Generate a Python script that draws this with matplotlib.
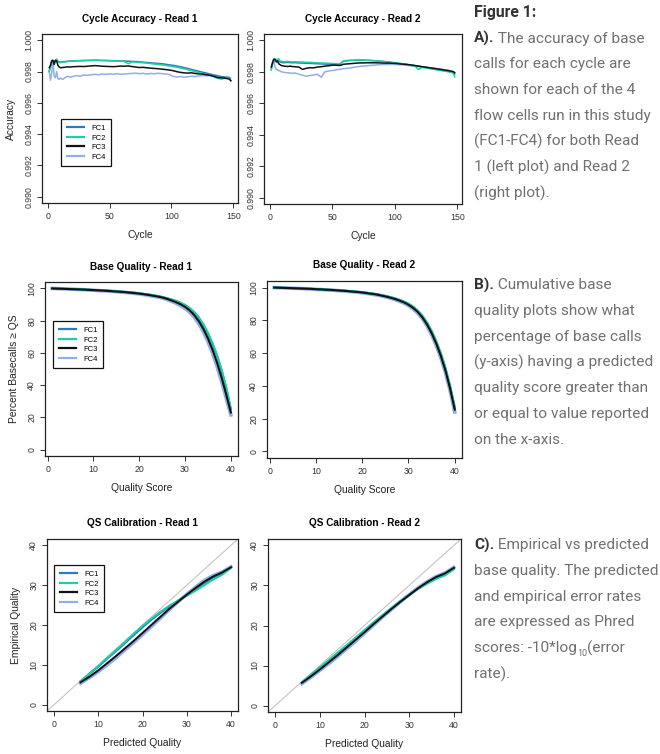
import matplotlib
matplotlib.use("Agg")
import matplotlib.pyplot as plt
import numpy as np

plt.rcParams['font.family'] = ['Liberation Sans', 'DejaVu Sans']

# ---------------- data ----------------
series = ['FC1', 'FC2', 'FC3', 'FC4']
colors = {'FC1': '#2b7bc0', 'FC2': '#1ccfa2', 'FC3': '#111111', 'FC4': '#92aee8'}

cycles = [1, 2, 3, 4, 5, 6, 7, 8, 9, 10,
          12, 14, 16, 18, 20,
          23, 26, 29, 32, 35, 38, 41, 44, 47, 50,
          53, 56, 59, 62, 65, 68, 71, 74, 77, 80,
          83, 86, 89, 92, 95, 98, 101, 104, 107, 110,
          113, 116, 119, 122, 125, 128, 131, 134, 137, 140,
          143, 145, 147, 148]

acc_r1 = {
    'FC1': [0.99805, 0.99830, 0.99862, 0.99868, 0.99866, 0.99870, 0.99872, 0.99866, 0.99862, 0.99860,
            0.99862, 0.99864, 0.99866, 0.99867, 0.99868,
            0.99869, 0.99870, 0.99871, 0.99871, 0.99872, 0.99872, 0.99872, 0.99871, 0.99871, 0.99870,
            0.99869, 0.99868, 0.99867, 0.99867, 0.99866, 0.99865, 0.99864, 0.99862, 0.99860, 0.99858,
            0.99856, 0.99854, 0.99852, 0.99850, 0.99847, 0.99843, 0.99840, 0.99836, 0.99831, 0.99826,
            0.99820, 0.99814, 0.99808, 0.99802, 0.99796, 0.99791, 0.99785, 0.99779, 0.99774, 0.99768,
            0.99764, 0.99762, 0.99758, 0.99740],
    'FC2': [0.99800, 0.99835, 0.99860, 0.99866, 0.99862, 0.99868, 0.99880, 0.99862, 0.99858, 0.99857,
            0.99859, 0.99862, 0.99864, 0.99866, 0.99867,
            0.99868, 0.99869, 0.99870, 0.99871, 0.99871, 0.99872, 0.99871, 0.99871, 0.99870, 0.99869,
            0.99868, 0.99867, 0.99866, 0.99864, 0.99850, 0.99862, 0.99860, 0.99858, 0.99856, 0.99854,
            0.99851, 0.99848, 0.99846, 0.99843, 0.99840, 0.99836, 0.99832, 0.99828, 0.99823, 0.99818,
            0.99812, 0.99806, 0.99800, 0.99794, 0.99788, 0.99782, 0.99776, 0.99768, 0.99758, 0.99752,
            0.99756, 0.99758, 0.99755, 0.99742],
    'FC3': [0.99825, 0.99840, 0.99870, 0.99872, 0.99845, 0.99872, 0.99868, 0.99840, 0.99830, 0.99824,
            0.99826, 0.99828, 0.99830, 0.99829, 0.99831,
            0.99832, 0.99833, 0.99832, 0.99834, 0.99836, 0.99838, 0.99836, 0.99834, 0.99833, 0.99832,
            0.99831, 0.99833, 0.99835, 0.99834, 0.99836, 0.99832, 0.99829, 0.99826, 0.99827, 0.99824,
            0.99822, 0.99820, 0.99818, 0.99816, 0.99813, 0.99810, 0.99806, 0.99800, 0.99795, 0.99792,
            0.99790, 0.99792, 0.99788, 0.99785, 0.99784, 0.99780, 0.99776, 0.99770, 0.99762, 0.99760,
            0.99758, 0.99755, 0.99752, 0.99742],
    'FC4': [0.99800, 0.99745, 0.99790, 0.99870, 0.99770, 0.99760, 0.99800, 0.99755, 0.99750, 0.99758,
            0.99750, 0.99762, 0.99770, 0.99764, 0.99768,
            0.99774, 0.99770, 0.99778, 0.99776, 0.99780, 0.99782, 0.99780, 0.99784, 0.99782, 0.99785,
            0.99783, 0.99786, 0.99782, 0.99784, 0.99786, 0.99788, 0.99790, 0.99786, 0.99789, 0.99784,
            0.99788, 0.99786, 0.99789, 0.99787, 0.99785, 0.99782, 0.99770, 0.99765, 0.99768, 0.99764,
            0.99766, 0.99770, 0.99768, 0.99772, 0.99774, 0.99773, 0.99775, 0.99772, 0.99770, 0.99768,
            0.99766, 0.99768, 0.99764, 0.99760],
}

acc_r2 = {
    'FC1': [0.99820, 0.99850, 0.99872, 0.99878, 0.99874, 0.99870, 0.99868, 0.99862, 0.99860, 0.99858,
            0.99858, 0.99860, 0.99858, 0.99857, 0.99858,
            0.99856, 0.99855, 0.99854, 0.99853, 0.99852, 0.99851, 0.99850, 0.99849, 0.99848, 0.99847,
            0.99846, 0.99848, 0.99868, 0.99870, 0.99872, 0.99873, 0.99874, 0.99874, 0.99873, 0.99872,
            0.99871, 0.99869, 0.99867, 0.99865, 0.99862, 0.99859, 0.99856, 0.99853, 0.99850, 0.99847,
            0.99843, 0.99839, 0.99835, 0.99831, 0.99827, 0.99823, 0.99819, 0.99815, 0.99811, 0.99806,
            0.99802, 0.99800, 0.99798, 0.99785],
    'FC2': [0.99810, 0.99855, 0.99880, 0.99882, 0.99876, 0.99880, 0.99882, 0.99868, 0.99866, 0.99865,
            0.99864, 0.99866, 0.99864, 0.99863, 0.99864,
            0.99862, 0.99862, 0.99860, 0.99860, 0.99858, 0.99857, 0.99856, 0.99855, 0.99854, 0.99853,
            0.99851, 0.99850, 0.99870, 0.99872, 0.99873, 0.99874, 0.99875, 0.99874, 0.99873, 0.99872,
            0.99870, 0.99868, 0.99866, 0.99864, 0.99861, 0.99858, 0.99855, 0.99852, 0.99849, 0.99845,
            0.99841, 0.99837, 0.99815, 0.99828, 0.99824, 0.99820, 0.99816, 0.99812, 0.99808, 0.99804,
            0.99800, 0.99797, 0.99790, 0.99768],
    'FC3': [0.99830, 0.99860, 0.99880, 0.99878, 0.99862, 0.99868, 0.99850, 0.99845, 0.99840, 0.99838,
            0.99835, 0.99834, 0.99836, 0.99833, 0.99832,
            0.99830, 0.99815, 0.99822, 0.99826, 0.99825, 0.99830, 0.99832, 0.99836, 0.99838, 0.99842,
            0.99842, 0.99840, 0.99848, 0.99850, 0.99852, 0.99854, 0.99856, 0.99856, 0.99857, 0.99857,
            0.99857, 0.99857, 0.99856, 0.99855, 0.99855, 0.99854, 0.99853, 0.99850, 0.99848, 0.99846,
            0.99843, 0.99840, 0.99836, 0.99832, 0.99829, 0.99825, 0.99822, 0.99818, 0.99815, 0.99811,
            0.99807, 0.99804, 0.99800, 0.99795],
    'FC4': [0.99835, 0.99850, 0.99875, 0.99830, 0.99815, 0.99812, 0.99808, 0.99805, 0.99800, 0.99798,
            0.99795, 0.99794, 0.99792, 0.99790, 0.99792,
            0.99785, 0.99778, 0.99772, 0.99776, 0.99780, 0.99784, 0.99765, 0.99800, 0.99805, 0.99808,
            0.99812, 0.99816, 0.99820, 0.99822, 0.99825, 0.99830, 0.99833, 0.99836, 0.99838, 0.99840,
            0.99842, 0.99844, 0.99846, 0.99846, 0.99847, 0.99847, 0.99846, 0.99845, 0.99843, 0.99841,
            0.99838, 0.99836, 0.99834, 0.99832, 0.99829, 0.99826, 0.99823, 0.99820, 0.99816, 0.99813,
            0.99810, 0.99806, 0.99802, 0.99790],
}

qs = list(range(1, 41))
bq_r1 = {
    'FC1': [100.0, 99.9, 99.8, 99.7, 99.6, 99.5, 99.4, 99.3, 99.2, 99.0, 98.9, 98.7, 98.6, 98.4, 98.2,
            98.0, 97.8, 97.5, 97.3, 97.0, 96.6, 96.2, 95.8, 95.3, 94.7, 94.0, 93.1, 92.2, 91.0, 89.6,
            87.6, 85.1, 81.8, 77.4, 72.0, 65.5, 58.0, 49.0, 38.0, 25.0],
    'FC2': [100.0, 99.9, 99.8, 99.7, 99.6, 99.5, 99.4, 99.3, 99.2, 99.0, 98.9, 98.7, 98.6, 98.4, 98.2,
            98.0, 97.8, 97.5, 97.3, 97.0, 96.6, 96.2, 95.8, 95.3, 94.7, 94.0, 93.2, 92.3, 91.2, 89.8,
            87.9, 85.4, 82.1, 77.8, 72.5, 66.0, 58.5, 49.5, 38.5, 25.5],
    'FC3': [100.0, 99.9, 99.8, 99.7, 99.6, 99.5, 99.4, 99.3, 99.1, 99.0, 98.8, 98.7, 98.5, 98.3, 98.1,
            97.9, 97.7, 97.4, 97.1, 96.8, 96.4, 96.0, 95.5, 95.0, 94.4, 93.6, 92.6, 91.5, 90.2, 88.6,
            86.4, 83.5, 79.7, 74.9, 69.0, 62.0, 53.8, 44.5, 34.0, 23.0],
    'FC4': [100.0, 99.9, 99.8, 99.7, 99.6, 99.5, 99.3, 99.2, 99.0, 98.9, 98.7, 98.5, 98.4, 98.2, 98.0,
            97.7, 97.5, 97.2, 96.9, 96.6, 96.2, 95.7, 95.2, 94.7, 94.1, 93.2, 92.1, 90.9, 89.4, 87.6,
            85.3, 82.2, 78.2, 73.2, 67.0, 59.8, 51.5, 42.0, 31.8, 21.5],
}
bq_r2 = {
    'FC1': [100.0, 99.9, 99.8, 99.7, 99.6, 99.5, 99.4, 99.3, 99.2, 99.1, 98.9, 98.8, 98.6, 98.5, 98.3,
            98.1, 97.9, 97.7, 97.4, 97.1, 96.8, 96.4, 96.0, 95.5, 94.9, 94.2, 93.4, 92.5, 91.4, 90.0,
            88.2, 85.8, 82.6, 78.4, 73.2, 66.9, 59.5, 50.5, 39.5, 26.5],
    'FC2': [100.0, 99.9, 99.8, 99.7, 99.6, 99.5, 99.4, 99.3, 99.2, 99.1, 98.9, 98.8, 98.6, 98.5, 98.3,
            98.1, 97.9, 97.7, 97.4, 97.1, 96.8, 96.4, 96.0, 95.5, 94.9, 94.3, 93.5, 92.6, 91.5, 90.2,
            88.4, 86.0, 82.9, 78.8, 73.6, 67.4, 60.0, 51.0, 40.0, 27.0],
    'FC3': [100.0, 99.9, 99.8, 99.7, 99.6, 99.5, 99.4, 99.3, 99.2, 99.0, 98.9, 98.7, 98.6, 98.4, 98.2,
            98.0, 97.8, 97.5, 97.3, 97.0, 96.6, 96.2, 95.8, 95.2, 94.6, 93.9, 93.1, 92.1, 91.0, 89.5,
            87.6, 85.1, 81.8, 77.5, 72.2, 65.8, 58.2, 49.2, 38.3, 25.5],
    'FC4': [100.0, 99.9, 99.8, 99.7, 99.6, 99.5, 99.4, 99.2, 99.1, 98.9, 98.8, 98.6, 98.4, 98.3, 98.1,
            97.9, 97.6, 97.4, 97.1, 96.8, 96.4, 96.0, 95.5, 95.0, 94.3, 93.6, 92.7, 91.7, 90.5, 89.0,
            87.0, 84.4, 81.0, 76.6, 71.2, 64.7, 57.0, 48.0, 37.0, 24.0],
}

pred_q = [6, 8, 10, 12, 14, 16, 18, 20, 22, 24, 26, 28, 30, 32, 34, 36, 38, 40]
cal_r1 = {
    'FC1': [5.9, 7.7, 9.5, 11.5, 13.4, 15.4, 17.4, 19.4, 21.3, 23.0, 24.6, 26.1, 27.5, 29.0, 30.5, 31.9, 32.9, 34.4],
    'FC2': [5.9, 7.8, 9.7, 11.7, 13.7, 15.7, 17.8, 19.8, 21.6, 23.3, 24.8, 26.1, 27.3, 28.6, 30.0, 31.4, 32.6, 34.3],
    'FC3': [5.6, 7.0, 8.6, 10.4, 12.2, 14.1, 16.0, 18.0, 20.0, 22.0, 24.0, 25.8, 27.6, 29.3, 30.9, 32.2, 33.2, 34.5],
    'FC4': [5.4, 6.8, 8.3, 10.0, 11.8, 13.7, 15.6, 17.6, 19.6, 21.7, 23.8, 25.8, 27.7, 29.5, 31.2, 32.4, 33.3, 34.6],
}
cal_r2 = {
    'FC1': [5.8, 7.5, 9.3, 11.1, 12.9, 14.8, 16.7, 18.6, 20.5, 22.4, 24.2, 25.9, 27.6, 29.2, 30.7, 32.0, 32.9, 34.3],
    'FC2': [5.9, 7.7, 9.6, 11.4, 13.3, 15.1, 17.0, 18.9, 20.8, 22.6, 24.4, 26.1, 27.7, 29.1, 30.4, 31.6, 32.5, 34.0],
    'FC3': [5.7, 7.3, 9.0, 10.8, 12.6, 14.5, 16.4, 18.3, 20.3, 22.2, 24.1, 25.9, 27.6, 29.3, 30.8, 32.1, 33.0, 34.4],
    'FC4': [5.5, 7.1, 8.8, 10.5, 12.3, 14.2, 16.1, 18.1, 20.1, 22.1, 24.0, 25.9, 27.7, 29.4, 30.9, 32.2, 33.1, 34.5],
}

# ---------------- figure ----------------
W, H = 660, 754
fig = plt.figure(figsize=(W / 100, H / 100), dpi=100)


def px_axes(x0, y0, x1, y1):
    # pixel box (top-left origin) -> axes
    return fig.add_axes([x0 / W, 1 - y1 / H, (x1 - x0) / W, (y1 - y0) / H])


def r_style(ax, title, xlabel, ylabel, xlim, ylim, xticks, yticks, yfmt):
    ax.set_xlim(xlim[0] - 0.04 * (xlim[1] - xlim[0]), xlim[1] + 0.04 * (xlim[1] - xlim[0]))
    ax.set_ylim(ylim[0] - 0.04 * (ylim[1] - ylim[0]), ylim[1] + 0.04 * (ylim[1] - ylim[0]))
    ax.set_xticks(xticks)
    ax.set_yticks(yticks)
    ax.set_yticklabels([yfmt.format(v) for v in yticks])
    for s in ax.spines.values():
        s.set_color('#222222')
        s.set_linewidth(0.9)
    ax.tick_params(direction='out', length=3.3, width=0.7, color='#333333',
                   labelsize=6.3, labelcolor='#333333', pad=3.5)
    ax.tick_params(axis='y', labelrotation=90, pad=3)
    for lbl in ax.get_yticklabels():
        lbl.set_va('center')
    ax.set_title(title, fontsize=7.2, fontweight='bold', pad=9)
    if xlabel:
        ax.set_xlabel(xlabel, fontsize=7.4, color='#222222', labelpad=6)
    if ylabel:
        ax.set_ylabel(ylabel, fontsize=7.4, color='#222222', labelpad=6)


def add_legend(ax, anchor):
    h, l = ax.get_legend_handles_labels()
    hh = [h[l.index(s)] for s in series]
    leg = ax.legend(hh, series, loc='upper left', bbox_to_anchor=anchor, borderaxespad=0,
                    fontsize=5.5, frameon=True, fancybox=False, framealpha=1,
                    edgecolor='#111111', handlelength=2.3, handletextpad=0.9,
                    labelspacing=0.28, borderpad=0.75)
    leg.get_frame().set_linewidth(0.9)
    for line in leg.get_lines():
        line.set_linewidth(1.6)


order = ['FC4', 'FC1', 'FC2', 'FC3']

# row 1: cycle accuracy
ax1 = px_axes(42, 34, 238, 203)
ax2 = px_axes(264, 34, 462, 204)
for ax, data, t in [(ax1, acc_r1, 'Cycle Accuracy - Read 1'), (ax2, acc_r2, 'Cycle Accuracy - Read 2')]:
    for s in series:
        ax.plot(cycles, data[s], color=colors[s], lw=1.1, label=s,
                zorder=2 if s != 'FC4' else 1.5)
    r_style(ax, t, 'Cycle', 'Accuracy' if ax is ax1 else None,
            (1, 148), (0.990, 1.000), [0, 50, 100, 150],
            [0.990, 0.992, 0.994, 0.996, 0.998, 1.000], '{:.3f}')
add_legend(ax1, (0.097, 0.497))

# row 2: base quality
ax3 = px_axes(45, 282, 238, 456)
ax4 = px_axes(267, 281, 462, 458)
for ax, data, t in [(ax3, bq_r1, 'Base Quality - Read 1'), (ax4, bq_r2, 'Base Quality - Read 2')]:
    for s in order:
        ax.plot(qs, data[s], color=colors[s], lw=2.6 if s == 'FC4' else 1.5, label=s)
    r_style(ax, t, 'Quality Score', 'Percent Basecalls \u2265 QS' if ax is ax3 else None,
            (1, 40), (0, 100), [0, 10, 20, 30, 40], [0, 20, 40, 60, 80, 100], '{:d}')
add_legend(ax3, (0.041, 0.776))

# row 3: QS calibration
ax5 = px_axes(47, 539, 238, 711)
ax6 = px_axes(268, 539, 461, 712)
for ax, data, t in [(ax5, cal_r1, 'QS Calibration - Read 1'), (ax6, cal_r2, 'QS Calibration - Read 2')]:
    ax.axline((0, 0), slope=1, color='#c4c4c4', lw=0.8, zorder=1)
    for s in order:
        ax.plot(pred_q, data[s], color=colors[s], lw=2.6 if s == 'FC4' else 1.4, label=s, zorder=2)
    r_style(ax, t, 'Predicted Quality', 'Empirical Quality' if ax is ax5 else None,
            (0, 40), (0, 40), [0, 10, 20, 30, 40], [0, 10, 20, 30, 40], '{:d}')
add_legend(ax5, (0.037, 0.849))

# ---------------- caption text ----------------
renderer = fig.canvas.get_renderer()
TXT = ['Roboto', 'DejaVu Sans']
FS = 11.1
body = dict(fontsize=FS, family=TXT, fontweight='normal', color='#707070', va='center')
bold = dict(fontsize=FS, family=TXT, fontweight='bold', color='#333333', va='center')
X0 = 474


def runs(y, parts):
    x = X0
    for txt, style in parts:
        t = fig.text(x / W, 1 - y / H, txt, **style)
        x += t.get_window_extent(renderer).width


fig.text(X0 / W, 1 - 13 / H, 'Figure 1:', fontsize=11.3, family=TXT, fontweight='bold',
         color='#333333', va='center')

lines_a = ['calls for each cycle are', 'shown for each of the 4', 'flow cells run in this study',
           '(FC1-FC4) for both Read', '1 (left plot) and Read 2', '(right plot).']
lines_b = ['quality plots show what', 'percentage of base calls', '(y-axis) having a predicted',
           'quality score greater than', 'or equal to value reported', 'on the x-axis.']
lines_c = ['base quality. The predicted', 'and empirical error rates', 'are expressed as Phred']

step = 25.8
runs(38.5, [('A).', bold), (' The accuracy of base', body)])
for i, s in enumerate(lines_a):
    runs(38.5 + step * (i + 1), [(s, body)])

runs(285, [('B).', bold), (' Cumulative base', body)])
for i, s in enumerate(lines_b):
    runs(285 + step * (i + 1), [(s, body)])

runs(545, [('C).', bold), (' Empirical vs predicted', body)])
for i, s in enumerate(lines_c):
    runs(545 + step * (i + 1), [(s, body)])

ysc = 545 + step * 4
x = X0
t = fig.text(x / W, 1 - ysc / H, 'scores: -10*log', **body)
x += t.get_window_extent(renderer).width
sub = dict(body)
sub['fontsize'] = 6.5
t = fig.text(x / W, 1 - (ysc + 5) / H, '10', **sub)
x += t.get_window_extent(renderer).width
fig.text(x / W, 1 - ysc / H, '(error', **body)
runs(545 + step * 5, [('rate).', body)])

fig.savefig('out.png', dpi=100)
